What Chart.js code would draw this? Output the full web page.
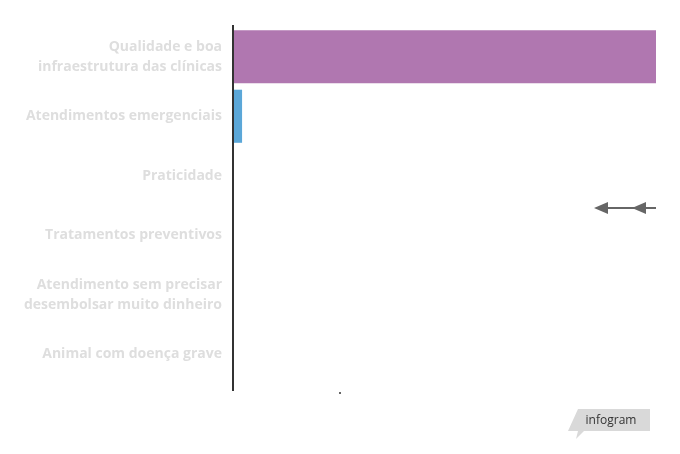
<!DOCTYPE html>
<html>
<head>
<meta charset="utf-8">
<script src="https://cdn.jsdelivr.net/npm/chart.js@4"></script>
<style>
  html, body { margin: 0; padding: 0; background: #fff; }
  #wrap { position: relative; width: 680px; height: 454px; }
  #arrow { position: absolute; left: 590px; top: 198px; }
  #logo { position: absolute; left: 566px; top: 408px; }
  #dot { position: absolute; left: 339px; top: 392px; width: 2px; height: 2px; background: #666; }
</style>
</head>
<body>
<div id="wrap">
  <canvas id="chart" width="680" height="454"></canvas>
  <div id="dot"></div>
  <svg id="arrow" width="70" height="20">
    <line x1="10" y1="10" x2="66" y2="10" stroke="#666" stroke-width="2"/>
    <polygon points="4,10 18,4 18,16" fill="#666"/>
    <polygon points="42,10 56,4 56,16" fill="#666"/>
  </svg>
  <svg id="logo" width="90" height="34">
    <polygon points="12,1 84,1 84,23 18,23 10,31 12,23 2,23" fill="#d9d9d9"/>
    <text x="45" y="16" text-anchor="middle" font-family="Open Sans" font-size="12" fill="#333">infogram</text>
  </svg>
</div>
<script>
const categories = [
  ["Qualidade e boa", "infraestrutura das clínicas"],
  "Atendimentos emergenciais",
  "Praticidade",
  "Tratamentos preventivos",
  ["Atendimento sem precisar", "desembolsar muito dinheiro"],
  "Animal com doença grave"
];
const values = [97.9, 2.1, 0, 0, 0, 0];
const barColors = ["#b077b0", "#5ba7d8", "#b077b0", "#b077b0", "#b077b0", "#b077b0"];

// vertical axis line, a bit longer than the plot area
const axisLine = {
  id: "axisLine",
  afterDatasetsDraw(chart) {
    const { ctx, chartArea } = chart;
    ctx.save();
    ctx.strokeStyle = "#333";
    ctx.lineWidth = 2;
    ctx.beginPath();
    ctx.moveTo(chartArea.left, chartArea.top - 2);
    ctx.lineTo(chartArea.left, chartArea.bottom + 7);
    ctx.stroke();
    ctx.restore();
  }
};

const ctx = document.getElementById("chart").getContext("2d");

new Chart(ctx, {
  type: "bar",
  data: {
    labels: categories,
    datasets: [{
      data: values,
      backgroundColor: barColors,
      borderWidth: 0,
      barPercentage: 0.92,
      categoryPercentage: 0.97
    }]
  },
  options: {
    indexAxis: "y",
    responsive: false,
    animation: false,
    layout: { padding: { top: 27, bottom: 70, right: 24, left: 0 } },
    scales: {
      x: {
        display: false,
        min: 0,
        max: 97.9
      },
      y: {
        afterFit: s => { s.width = 233; },
        grid: { display: false, drawTicks: false },
        border: { display: false },
        ticks: {
          color: "#dedede",
          padding: 11,
          font: { family: "Open Sans", size: 14, weight: "bold", lineHeight: 1.42 }
        }
      }
    },
    plugins: {
      legend: { display: false },
      tooltip: { enabled: false }
    }
  },
  plugins: [axisLine]
});
</script>
</body>
</html>
